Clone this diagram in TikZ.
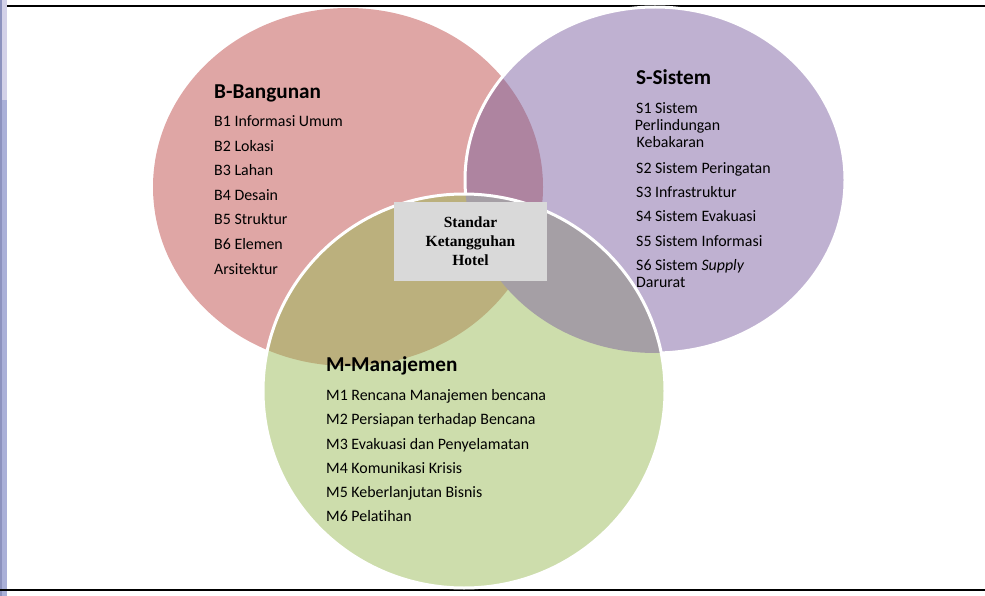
\documentclass[tikz,border=0pt]{standalone}
\usepackage{fontspec}
\setmainfont[Ligatures=NoCommon]{Carlito}
\newfontfamily\hotelfont{Liberation Serif}
\definecolor{bangunan}{RGB}{223,166,165}
\definecolor{sistem}{RGB}{191,177,209}
\definecolor{manajemen}{RGB}{205,221,172}
\definecolor{bsover}{RGB}{174,132,160}
\definecolor{bmover}{RGB}{187,176,125}
\definecolor{smover}{RGB}{165,159,165}
\definecolor{boxgray}{RGB}{217,217,217}
\definecolor{stripblue}{RGB}{170,176,216}
\definecolor{striplav}{RGB}{211,209,232}
\definecolor{stripdark}{RGB}{140,146,190}
% the three circles
\newcommand{\bpath}{(348,187) ellipse [x radius=195pt, y radius=179pt]}
\newcommand{\spath}{(655,180) ellipse [x radius=190pt, y radius=173pt]}
\newcommand{\mpath}{(464,391) ellipse [x radius=201pt, y radius=197pt]}
\tikzset{
  head/.style={font=\fontsize{21.2}{24}\selectfont\bfseries, inner sep=0pt, anchor=base west},
  item/.style={font=\fontsize{15.9}{18}\selectfont, inner sep=0pt, anchor=base west},
  core/.style={fill=boxgray, minimum width=153pt, minimum height=79pt, align=center,
    font=\hotelfont\fontsize{15.5}{19}\selectfont\bfseries}
}
\begin{document}
\begin{tikzpicture}[x=1pt,y=-1pt]
\useasboundingbox (0,0) rectangle (985,596);
% page frame
\fill[stripblue] (0,0) rectangle (7,596);
\fill[striplav] (0,0) rectangle (7,100);
\fill[stripdark] (0,0) rectangle (2,596);
\draw[line width=2pt] (7,6) -- (985,6);
\draw[line width=2pt] (0,590) -- (985,590);
% circles and overlaps
\fill[bangunan] \bpath;
\fill[sistem] \spath;
\begin{scope}
\clip \bpath;
\fill[bsover] \spath;
\end{scope}
\draw[white, line width=3pt] \spath;
\fill[manajemen] \mpath;
\begin{scope}
\clip \mpath;
\fill[bmover] \bpath;
\fill[smover] \spath;
\end{scope}
\draw[white, line width=3pt] \mpath;
% B
\node[head] (bhead) at (214,99) {B-Bangunan};
\node[item] (b1) at (214,127) {B1 Informasi Umum};
\node[item] (b2) at (214,151.5) {B2 Lokasi};
\node[item] (b3) at (214,176) {B3 Lahan};
\node[item] (b4) at (214,200.5) {B4 Desain};
\node[item] (b5) at (214,225) {B5 Struktur};
\node[item] (b6) at (214,249.5) {B6 Elemen};
\node[item] (b7) at (214,274) {Arsitektur};
% S
\node[head] (shead) at (636,85) {S-Sistem};
\node[item] (s1) at (636,113.3) {S1 Sistem};
\node[item] (s1b) at (634.7,131) {Perlindungan};
\node[item] (s1c) at (636.5,147.7) {Kebakaran};
\node[item] (s2) at (636,173.3) {S2 Sistem Peringatan};
\node[item] (s3) at (636,197.3) {S3 Infrastruktur};
\node[item] (s4) at (636,221.5) {S4 Sistem Evakuasi};
\node[item] (s5) at (636,246) {S5 Sistem Informasi};
\node[item] (s6) at (636,270) {S6 Sistem \textit{Supply}};
\node[item] (s6b) at (636,287.3) {Darurat};
% M
\node[head] (mhead) at (326,371.7) {M-Manajemen};
\node[item] (m1) at (326,400) {M1 Rencana Manajemen bencana};
\node[item] (m2) at (326,424.3) {M2 Persiapan terhadap Bencana};
\node[item] (m3) at (326,449) {M3 Evakuasi dan Penyelamatan};
\node[item] (m4) at (326,473) {M4 Komunikasi Krisis};
\node[item] (m5) at (326,497.7) {M5 Keberlanjutan Bisnis};
\node[item] (m6) at (326,521.7) {M6 Pelatihan};
% centre
\node[core] (std) at (470.5,241.5) {Standar\\Ketangguhan\\Hotel};
\end{tikzpicture}
\end{document}
